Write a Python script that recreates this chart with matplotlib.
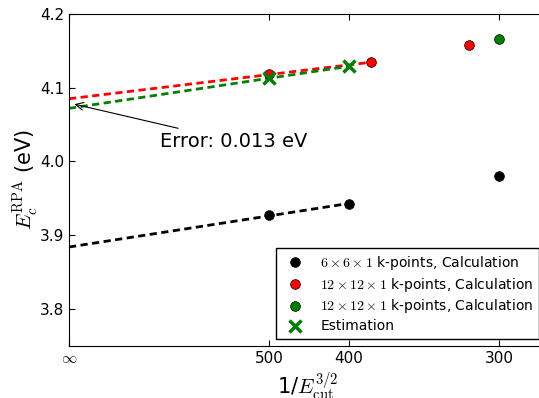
import numpy as np
import matplotlib
matplotlib.use("Agg")
import matplotlib.pyplot as plt

plt.rcParams['mathtext.fontset'] = 'cm'
plt.rcParams['font.family'] = 'DejaVu Sans'

# cutoff energies (eV) and RPA correlation energies
ecut_6 = [500, 400, 300]
erpa_6 = [3.927, 3.943, 3.980]
ecut_12 = [500, 380, 315]
erpa_12 = [4.118, 4.1345, 4.158]
ecut_12b = [300]
erpa_12b = [4.166]
ecut_est = [500, 400]
erpa_est = [4.113, 4.129]

# extrapolated values at infinite cutoff
ext_6 = 3.884
ext_12 = 4.085
ext_est = 4.072

tick_ecut = [500, 400, 300]
tick_labels = ['500', '400', '300']


def inv(e):
    return np.asarray(e, dtype=float) ** -1.5


fig = plt.figure(figsize=(5.39, 3.98), dpi=100)
ax = fig.add_axes([0.128, 0.131, 0.885, 0.834])

# extrapolation lines from 1/E = 0 to the last point used in the fit
dash = (2.6, 1.6)
ax.plot([0, inv(ecut_6[1])], [ext_6, erpa_6[1]], color='k', lw=2, dashes=dash)
ax.plot([0, inv(ecut_12[1])], [ext_12, erpa_12[1]], color='r', lw=2, dashes=dash)
ax.plot([0, inv(ecut_est[1])], [ext_est, erpa_est[1]], color='g', lw=2, dashes=dash)

ax.plot(inv(ecut_6), erpa_6, 'o', color='k', ms=7, mec='k', mew=0.5,
        label=r'$6\times6\times1$ k-points, Calculation')
ax.plot(inv(ecut_12), erpa_12, 'o', color='r', ms=7, mec='k', mew=0.5,
        label=r'$12\times12\times1$ k-points, Calculation')
ax.plot(inv(ecut_12b), erpa_12b, 'o', color='g', ms=7, mec='k', mew=0.5,
        label=r'$12\times12\times1$ k-points, Calculation')
ax.plot(inv(ecut_est), erpa_est, 'x', color='g', ms=8.5, mew=2.5,
        label='Estimation')

ax.annotate('Error: 0.013 eV', xy=(0.0000012, (ext_12 + ext_est) / 2),
            xytext=(4.07e-5, 4.020), fontsize=14,
            arrowprops=dict(arrowstyle='->', color='k', lw=0.8))

ax.set_xlim(0, 2.133e-4)
ax.set_ylim(3.75, 4.2)
ax.set_yticks([3.8, 3.9, 4.0, 4.1, 4.2])
ax.set_xticks([0] + list(inv(tick_ecut)))
ax.set_xticklabels([r'$\infty$'] + tick_labels)
ax.tick_params(direction='in', top=True, right=True, labelsize=11, length=4)

ax.set_xlabel(r'1/$E_{\rm cut}^{3/2}$', fontsize=15)
ax.set_ylabel(r'$E_c^{\rm RPA}$ (eV)', fontsize=15)
ax.yaxis.set_label_coords(-0.058, 0.5)

leg = ax.legend(loc='lower right', numpoints=1, fontsize=10, fancybox=False,
                framealpha=1, borderaxespad=0.5, labelspacing=0.28)
leg.get_frame().set_edgecolor('k')

fig.savefig('out.png', dpi=100)
